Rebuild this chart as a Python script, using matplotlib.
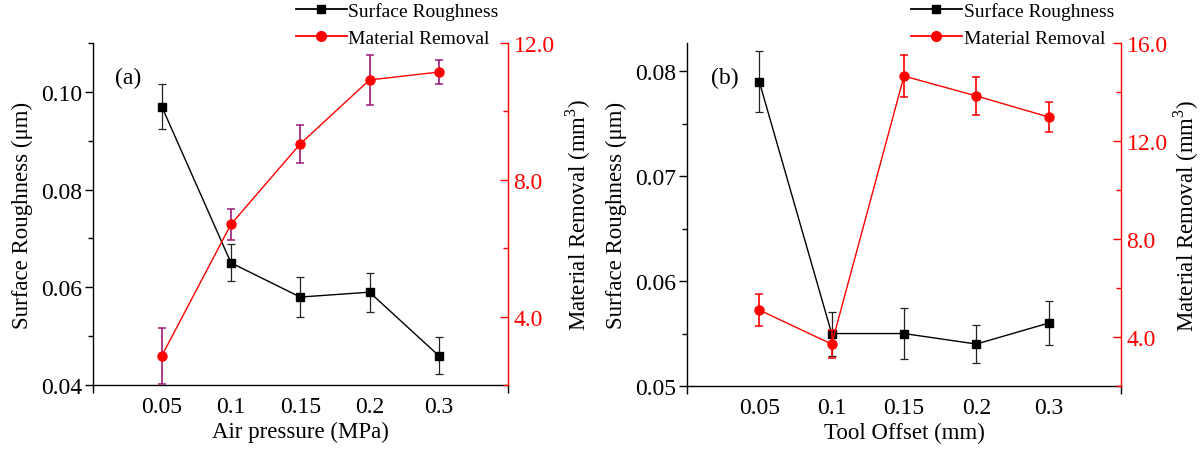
import matplotlib
matplotlib.use("Agg")
import matplotlib.pyplot as plt
from matplotlib.lines import Line2D
from matplotlib.ticker import MultipleLocator, FixedLocator, NullFormatter

plt.rcParams['font.family'] = ['Liberation Serif', 'DejaVu Serif']
plt.rcParams['mathtext.fontset'] = 'custom'
plt.rcParams['mathtext.rm'] = 'Liberation Serif'

# Panel (a): air pressure
pressure_labels = ["0.05", "0.1", "0.15", "0.2", "0.3"]
rough_a = [0.097, 0.065, 0.058, 0.059, 0.046]
rough_a_err = [0.0046, 0.0038, 0.0041, 0.0040, 0.0038]
removal_a = [2.85, 6.70, 9.05, 10.92, 11.15]
removal_a_err = [0.82, 0.45, 0.55, 0.73, 0.35]

# Panel (b): tool offset
offset_labels = ["0.05", "0.1", "0.15", "0.2", "0.3"]
rough_b = [0.079, 0.055, 0.055, 0.054, 0.056]
rough_b_err = [0.0029, 0.0021, 0.0024, 0.0018, 0.0021]
removal_b = [5.10, 3.71, 14.65, 13.84, 12.98]
removal_b_err = [0.65, 0.57, 0.87, 0.77, 0.62]

W, H = 1202, 452
fig = plt.figure(figsize=(W / 100, H / 100), dpi=100)

RED = '#ff0000'
TICK_FS = 17
LABEL_FS = 16.5


def panel(rect, labels, rough, rough_err, removal, removal_err,
          y1lim, y1major, y1minor, y1fmt, y2lim, y2major, y2minor,
          xlabel, tag, ecolor2, legend_xy, r_labelpad):
    ax = fig.add_axes(rect)
    x = list(range(1, len(labels) + 1))
    ax.errorbar(x, rough, yerr=rough_err, color='black', marker='s',
                markersize=5.5, linewidth=1.0, ecolor='#222222',
                elinewidth=0.9, capsize=3, capthick=0.9, zorder=3)
    ax.set_xlim(0, len(labels) + 1)
    ax.set_ylim(*y1lim)
    ax.yaxis.set_major_locator(MultipleLocator(y1major))
    if y1minor:
        ax.yaxis.set_minor_locator(MultipleLocator(y1minor))
    ax.yaxis.set_major_formatter(plt.FuncFormatter(lambda v, p: y1fmt.format(v)))
    ax.xaxis.set_major_locator(FixedLocator(x))
    ax.set_xticklabels(labels)
    ax.xaxis.set_minor_locator(FixedLocator([0, len(labels) + 1]))
    ax.xaxis.set_minor_formatter(NullFormatter())
    ax.tick_params(axis='x', which='major', length=0, pad=8, labelsize=TICK_FS)
    ax.tick_params(axis='x', which='minor', length=6, width=1, direction='out')
    ax.tick_params(axis='y', which='major', length=6, width=1, direction='out',
                   labelsize=TICK_FS, pad=1.5)
    ax.tick_params(axis='y', which='minor', length=3.5, width=1, direction='out')
    ax.spines['top'].set_visible(False)
    ax.spines['right'].set_visible(False)
    for s in ('left', 'bottom'):
        ax.spines[s].set_linewidth(1.0)
    ax.set_xlabel(xlabel, fontsize=LABEL_FS, labelpad=3)
    ax.set_ylabel('Surface Roughness (μm)', fontsize=LABEL_FS, labelpad=6)
    ax.text(0.055, 0.9, tag, transform=ax.transAxes, fontsize=17,
            ha='left', va='center')

    ax2 = ax.twinx()
    ax2.errorbar(x, removal, yerr=removal_err, color=RED, marker='o',
                 markersize=6.5, linewidth=1.0, ecolor=ecolor2,
                 elinewidth=1.2, capsize=3, capthick=1.1, zorder=3)
    ax2.set_ylim(*y2lim)
    ax2.yaxis.set_major_locator(MultipleLocator(y2major))
    ax2.yaxis.set_minor_locator(MultipleLocator(y2minor))
    ax2.yaxis.set_major_formatter(plt.FuncFormatter(lambda v, p: f"{v:.1f}"))
    ax2.tick_params(axis='y', which='major', length=6, width=1, direction='in',
                    colors=RED, labelsize=TICK_FS, pad=4)
    ax2.tick_params(axis='y', which='minor', length=3.5, width=1,
                    direction='in', colors=RED)
    for s in ('top', 'left', 'bottom'):
        ax2.spines[s].set_visible(False)
    ax2.spines['right'].set_color(RED)
    ax2.spines['right'].set_linewidth(1.0)
    ax2.set_ylabel('Material Removal (mm$^3$)', fontsize=LABEL_FS,
                   color='black', labelpad=r_labelpad)

    handles = [Line2D([], [], color='black', marker='s', markersize=6,
                      linewidth=1.3),
               Line2D([], [], color=RED, marker='o', markersize=7,
                      linewidth=1.3)]
    names = ['Surface Roughness', 'Material Removal']
    fig.legend(handles, names, loc='upper left',
               bbox_to_anchor=legend_xy, bbox_transform=fig.transFigure,
               frameon=False, fontsize=14, handlelength=2.6,
               handletextpad=0.1, labelspacing=0.5, borderaxespad=0,
               borderpad=0)
    return ax, ax2


panel([92.5 / W, 1 - 386 / H, (508 - 92.5) / W, (386 - 44) / H],
      pressure_labels, rough_a, rough_a_err, removal_a, removal_a_err,
      (0.04, 0.11), 0.02, 0.01, "{:.2f}", (2.0, 12.0), 4.0, 2.0,
      'Air pressure (MPa)', '(a)', '#9a1a78', (296 / W, 1 - 3 / H), 6)

panel([687 / W, 1 - 387 / H, (1121 - 687) / W, (387 - 44) / H],
      offset_labels, rough_b, rough_b_err, removal_b, removal_b_err,
      (0.05, 0.0827), 0.01, 0.005, "{:.2f}", (2.0, 16.0), 4.0, 2.0,
      'Tool Offset (mm)', '(b)', RED, (911 / W, 1 - 3 / H), 3)

fig.savefig('out.png', dpi=100, facecolor='white')
